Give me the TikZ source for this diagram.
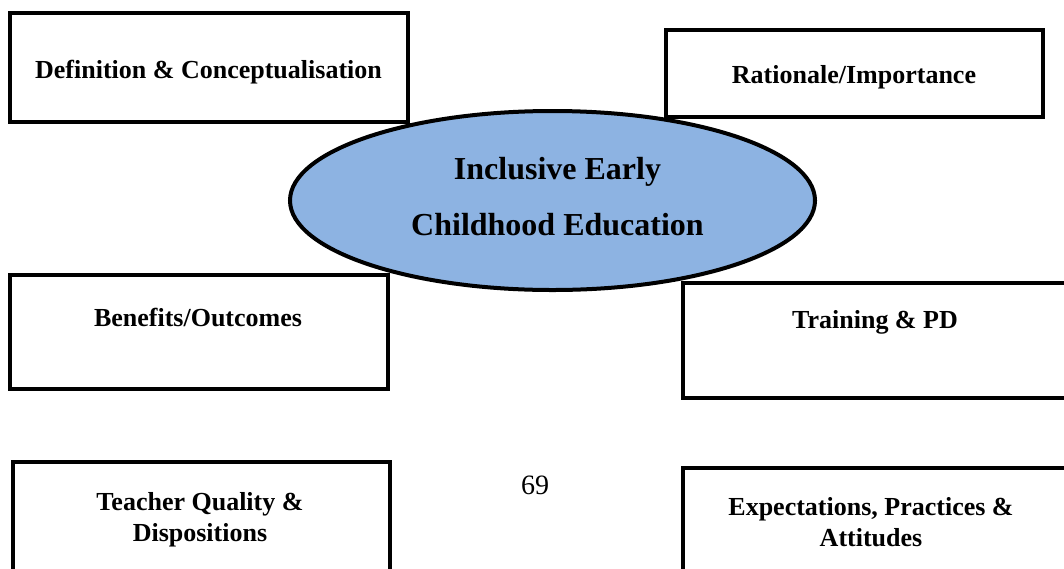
\documentclass[tikz,border=0pt]{standalone}
\usepackage{fontspec}
\setmainfont{Liberation Serif}
\usetikzlibrary{shapes.geometric}
\definecolor{hubblue}{HTML}{8DB3E2}

\begin{document}
\begin{tikzpicture}[
    x=0.5pt, y=-0.5pt,
    box/.style={draw, line width=2pt, rectangle, anchor=north west, outer sep=0pt, inner sep=0pt},
    lbl/.style={font=\bfseries\fontsize{13}{15.5}\selectfont, align=center, inner sep=0pt},
    hub/.style={ellipse, draw, line width=2pt, fill=hubblue, inner sep=0pt,
      minimum width=262.5pt, minimum height=89.5pt}
  ]
    \useasboundingbox (0,0) rectangle (1064,568);

    % 枠
    \node[box, minimum width=199pt, minimum height=54.25pt] (defn) at (9.5,13) {};
    \node[box, minimum width=188.25pt, minimum height=43.75pt] (why) at (666,29.5) {};
    \node[box, minimum width=188.75pt, minimum height=57pt] (gain) at (10,274.5) {};
    \node[box, minimum width=192.5pt, minimum height=57.25pt] (train) at (682.5,283) {};
    \node[box, minimum width=188.75pt, minimum height=60pt] (teach) at (12.5,461.5) {};
    \node[box, minimum width=192.5pt, minimum height=60pt] (expect) at (683,467.5) {};

    % 枠の文字
    \node[lbl, anchor=base] (defnlbl) at (208.5,78.3) {Definition \& Conceptualisation};
    \node[lbl, anchor=base] (whylbl) at (854,83.3) {Rationale/Importance};
    \node[lbl, anchor=base] (gainlbl) at (198,326) {Benefits/Outcomes};
    \node[lbl, anchor=base] (trainlbl) at (875,328) {Training \& PD};
    \node[lbl] (teachlbl) at (200,520) {Teacher Quality \&\\Dispositions};
    \node[lbl] (expectlbl) at (871,522) {Expectations, Practices \&\\Attitudes};

    % 中央の楕円
    \node[hub] (iece) at (552.5,200.5) {};
    \node[lbl, font=\bfseries\fontsize{16}{28}\selectfont] (iecelbl) at (557.5,196.5)
      {Inclusive Early\\Childhood Education};

    % ページ番号
    \node[font=\fontsize{14}{16}\selectfont, anchor=base, inner sep=0pt] (pageno) at (535,494.3) {69};
\end{tikzpicture}
\end{document}
